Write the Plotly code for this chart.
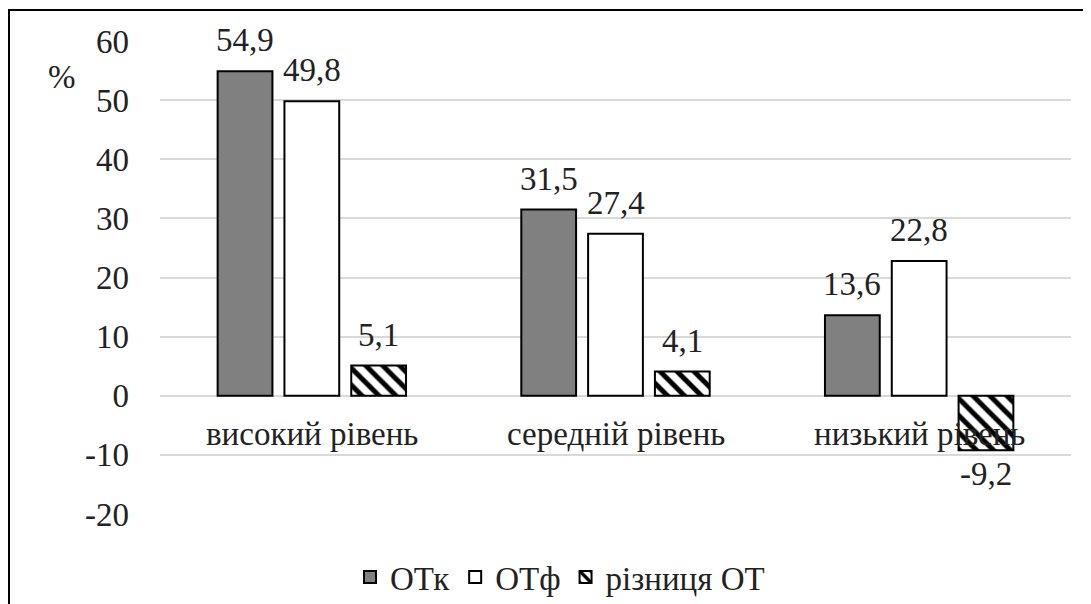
import plotly.graph_objects as go

categories = ["високий рівень", "середній рівень", "низький рівень"]
series_names = ["ОТк", "ОТф", "різниця ОТ"]
otk = [54.9, 31.5, 13.6]
otf = [49.8, 27.4, 22.8]
diff = [5.1, 4.1, -9.2]
y_ticks = [-20, -10, 0, 10, 20, 30, 40, 50, 60]

FONT = "Liberation Serif"
FS = 33
TXT = "#222"

OFF = 8  # page body margin
W, H = 1083, 596
L, R, T, B = 152, 20, 33, 90
PW, PH = W - L - R, H - T - B
BARGAP = 0.34


def px_x(p):
    return (p - OFF - L) / PW


def px_y(p):
    return 1 - (p - OFF - T) / PH


def fmt(v):
    return f"{v:.1f}".replace(".", ",")


fig = go.Figure()
fig.add_bar(x=categories, y=otk, name=series_names[0],
            marker=dict(color="#808080", line=dict(color="black", width=2)))
fig.add_bar(x=categories, y=otf, name=series_names[1],
            marker=dict(color="white", line=dict(color="black", width=2)))
fig.add_bar(x=categories, y=diff, name=series_names[2],
            marker=dict(color="white", line=dict(color="black", width=2),
                        pattern=dict(shape="\\", fgcolor="black", bgcolor="white",
                                     fillmode="overlay", fgopacity=1,
                                     size=12, solidity=0.42)))

# value labels, placed at each bar's slot within its category group
slot = (1 - BARGAP) / 3
for si, vals in enumerate([otk, otf, diff]):
    for ci, v in enumerate(vals):
        pos = v >= 0
        fig.add_annotation(x=ci + (si - 1) * slot, y=v, xref="x", yref="y",
                           text=fmt(v), showarrow=False,
                           yanchor="bottom" if pos else "top",
                           yshift=11 if pos else -4,
                           font=dict(family=FONT, size=FS, color=TXT))

for c in categories:
    fig.add_annotation(x=c, y=0, xref="x", yref="y", text=c, showarrow=False,
                       yshift=-38, yanchor="middle",
                       font=dict(family=FONT, size=FS, color=TXT))

fig.add_annotation(x=px_x(62), y=px_y(77), xref="paper", yref="paper", text="%",
                   showarrow=False, xanchor="center", yanchor="middle",
                   font=dict(family=FONT, size=FS, color=TXT))

fig.update_layout(
    width=W, height=H,
    margin=dict(l=L, r=R, t=T, b=B, autoexpand=False),
    paper_bgcolor="white", plot_bgcolor="white",
    barmode="group", bargap=BARGAP, bargroupgap=0.18,
    showlegend=True,
    legend=dict(orientation="h", x=px_x(560), xanchor="center", y=px_y(577), yanchor="middle",
                font=dict(family=FONT, size=FS, color=TXT),
                itemwidth=30, traceorder="normal"),
    font=dict(family=FONT, size=FS, color=TXT),
)
fig.update_xaxes(showticklabels=False, showgrid=False, zeroline=False, showline=False, ticks="")
fig.update_yaxes(range=[-20, 60], tickvals=y_ticks, ticktext=[str(t) for t in y_ticks],
                 showgrid=True, gridcolor="#d9d9d9",
                 gridwidth=2, zeroline=True, zerolinecolor="#d9d9d9", zerolinewidth=2,
                 showline=False, ticks="", ticklabelstandoff=30,
                 tickfont=dict(family=FONT, size=FS, color=TXT))

fig.add_shape(type="rect", xref="paper", yref="paper",
              x0=px_x(9), x1=px_x(W + 40),
              y0=px_y(H + 40), y1=px_y(10),
              line=dict(color="black", width=2), fillcolor="rgba(0,0,0,0)", layer="above")

fig.write_html("out.html")
